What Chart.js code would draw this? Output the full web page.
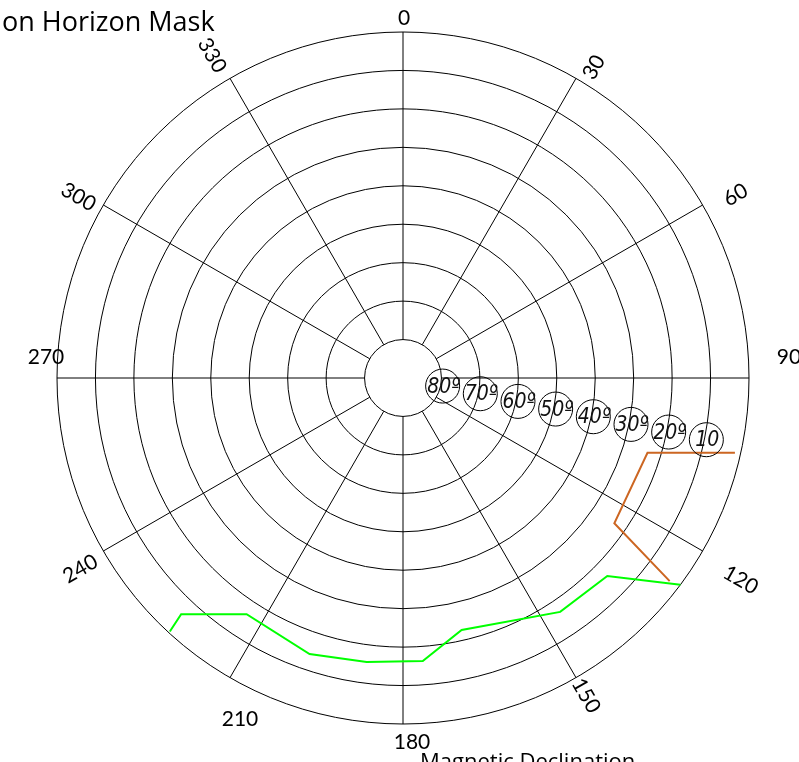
<!DOCTYPE html>
<html>
<head>
<meta charset="utf-8">
<script src="https://cdn.jsdelivr.net/npm/chart.js@4.4.1/dist/chart.umd.min.js"></script>
<style>
  html, body { margin: 0; padding: 0; background: #fff; }
  #wrap { width: 799px; height: 762px; }
</style>
</head>
<body>
<div id="wrap"><canvas id="myChart" width="799" height="762"></canvas></div>
<script>
// Azimut (grados) y elevacion (grados) de cada linea
const azimuthTicks = [0, 30, 60, 90, 120, 150, 180, 210, 240, 270, 300, 330];
const elevationRings = [0, 10, 20, 30, 40, 50, 60, 70, 80];
const ringLabels = ["10", "20º", "30º", "40º", "50º", "60º", "70º", "80º"];
const ringLabelValues = [10, 20, 30, 40, 50, 60, 70, 80];

const greenAz = [222.6, 223.2, 213.5, 198.7, 187.3, 176.0, 166.9, 146.1, 134.1, 126.7];
const greenEl = [0.4, 5.7, 16.3, 14.2, 15.5, 16.2, 22.7, 16.7, 16.0, 0.0];

const orangeAz = [102.7, 107.0, 124.5, 127.3];
const orangeEl = [1.5, 23.5, 23.3, 2.8];

// Colocacion de las etiquetas de azimut (rotacion y desplazamiento en px)
const labelLayout = {
  0: [0, 1, -14], 30: [-60, 18, -11], 60: [-30, 33, -10], 90: [0, 40, -21],
  120: [30, 38, 29], 150: [60, 10, 18], 180: [0, 9, 18], 210: [0, 10, 42],
  240: [-30, -23, 18], 270: [0, -11, -21], 300: [30, -25, -8], 330: [60, -18, -23]
};

const rad = d => d * Math.PI / 180;
function toXY(az, el) {
  const r = 90 - el;
  return { x: r * Math.sin(rad(az)), y: r * Math.cos(rad(az)) };
}

const skyGrid = {
  id: "skyGrid",
  beforeDatasetsDraw(chart) {
    const ctx = chart.ctx;
    const xs = chart.scales.x, ys = chart.scales.y;
    const px = (az, el) => {
      const p = toXY(az, el);
      return [xs.getPixelForValue(p.x), ys.getPixelForValue(p.y)];
    };
    const cx = xs.getPixelForValue(0), cy = ys.getPixelForValue(0);
    ctx.save();
    ctx.strokeStyle = "#000";
    ctx.lineWidth = 1;
    elevationRings.forEach(el => {
      const r = Math.abs(xs.getPixelForValue(90 - el) - cx);
      ctx.beginPath();
      ctx.arc(cx, cy, r, 0, Math.PI * 2);
      ctx.stroke();
    });
    azimuthTicks.forEach(az => {
      const a = px(az, 80), b = px(az, 0);
      ctx.beginPath();
      ctx.moveTo(a[0], a[1]);
      ctx.lineTo(b[0], b[1]);
      ctx.stroke();
    });
    ctx.restore();
  },
  afterDraw(chart) {
    const ctx = chart.ctx;
    const xs = chart.scales.x, ys = chart.scales.y;
    const px = (az, el) => {
      const p = toXY(az, el);
      return [xs.getPixelForValue(p.x), ys.getPixelForValue(p.y)];
    };
    ctx.save();
    ctx.fillStyle = "#000";
    ctx.textAlign = "center";
    ctx.textBaseline = "middle";
    ctx.font = "21px Lato";
    azimuthTicks.forEach(az => {
      const [rot, dx, dy] = labelLayout[az];
      const p = px(az, 0);
      ctx.save();
      ctx.translate(p[0] + dx, p[1] + dy);
      ctx.rotate(rad(rot));
      ctx.fillText(String(az), 0, 0);
      ctx.restore();
    });

    // Etiquetas de elevacion en circulos
    const step = Math.abs(xs.getPixelForValue(10) - xs.getPixelForValue(0));
    ringLabelValues.forEach((el, i) => {
      const p = px(101.5, el - 4 * 10 / step * 0.5);
      ctx.beginPath();
      ctx.strokeStyle = "#000";
      ctx.lineWidth = 1;
      ctx.arc(p[0], p[1], 17, 0, Math.PI * 2);
      ctx.stroke();
      ctx.fillStyle = "#111";
      ctx.font = "italic 21px 'Liberation Sans Narrow', 'DejaVu Sans Condensed', sans-serif";
      ctx.fillText(ringLabels[i], p[0] + 1, p[1] + 1);
    });

    ctx.fillStyle = "#000";
    ctx.textAlign = "left";
    ctx.textBaseline = "alphabetic";
    ctx.font = "27px 'Open Sans'";
    ctx.fillText("on Horizon Mask", 2, 31);
    ctx.font = "22px 'Open Sans'";
    ctx.fillText("Magnetic Declination", 420, 769);
    ctx.restore();
  }
};

const ctx = document.getElementById("myChart").getContext("2d");
new Chart(ctx, {
  type: "scatter",
  data: {
    datasets: [
      {
        label: "green",
        data: greenAz.map((az, i) => toXY(az, greenEl[i])),
        showLine: true,
        borderColor: "#00ff00",
        borderWidth: 2,
        pointRadius: 0,
        tension: 0
      },
      {
        label: "orange",
        data: orangeAz.map((az, i) => toXY(az, orangeEl[i])),
        showLine: true,
        borderColor: "#cc6622",
        borderWidth: 2,
        pointRadius: 0,
        tension: 0
      }
    ]
  },
  options: {
    responsive: false,
    animation: false,
    devicePixelRatio: 1,
    layout: { padding: { left: 57, right: 50, top: 32, bottom: 38 } },
    scales: {
      x: { type: "linear", min: -90, max: 90, display: false },
      y: { type: "linear", min: -90, max: 90, display: false }
    },
    plugins: {
      legend: { display: false },
      tooltip: { enabled: false }
    }
  },
  plugins: [skyGrid]
});
</script>
</body>
</html>
